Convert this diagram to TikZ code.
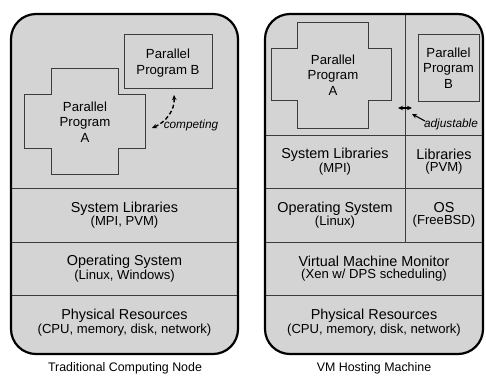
\documentclass[tikz,border=0pt]{standalone}
\usepackage{fontspec}
\setmainfont{Liberation Sans}
\usetikzlibrary{arrows.meta}
\definecolor{panelgray}{HTML}{D4D4D4}
\definecolor{rulegray}{HTML}{3C3C3C}
% two-line layer label: main name and a smaller detail line
\newcommand\lyr[2]{{\fontsize{14.4}{15}\selectfont #1}\\{\fontsize{13.1}{15}\selectfont #2}}
\begin{document}
\begin{tikzpicture}[x=1pt,y=-1pt,
  panelfill/.style={fill=panelgray,rounded corners=25pt},
  panelrim/.style={draw=black,line width=2.2pt,rounded corners=25pt},
  divider/.style={draw=rulegray,line width=0.9pt},
  progshape/.style={draw=rulegray,line width=0.9pt},
  layer/.style={align=center,inner sep=0pt},
  progtext/.style={align=center,inner sep=0pt,font=\fontsize{13.2}{15.5}\selectfont},
  note/.style={inner sep=0pt,font=\fontsize{11.8}{13}\selectfont\itshape},
  caption/.style={inner sep=0pt,font=\fontsize{12.4}{14}\selectfont},
  tip/.style={-{Stealth[length=5pt,width=4.5pt]}},
  twotip/.style={{Stealth[length=5pt,width=4.5pt]}-{Stealth[length=5pt,width=4.5pt]}}
]
\useasboundingbox (0,0) rectangle (486,381);

% ---------- Traditional computing node ----------
\fill[panelfill] (11,14) rectangle (238,354);
\draw[divider] (11,188) -- (238,188);
\draw[divider] (11,242) -- (238,242);
\draw[divider] (11,295) -- (238,295);

\draw[progshape] (51,68) -- (118,68) -- (118,94) -- (145,94) -- (145,148) -- (118,148)
  -- (118,174) -- (51,174) -- (51,148) -- (24,148) -- (24,94) -- (51,94) -- cycle;
\node[progtext] (tA) at (85,122) {Parallel\\Program\\A};
\draw[progshape] (124,34) rectangle (212,88);
\node[progtext] (tB) at (168,63) {Parallel\\Program B};

\coordinate (compA) at (152,128);
\coordinate (compB) at (174,95);
\draw[twotip,line width=1.4pt,dash pattern=on 4pt off 2.5pt]
  (compA) .. controls (166,122) and (175,110) .. (compB);
\node[note] (comp) at (191,125) {competing};

\node[layer] (tlib) at (124.5,215) {\lyr{System Libraries}{(MPI, PVM)}};
\node[layer] (tos)  at (124.5,268.5) {\lyr{Operating System}{(Linux, Windows)}};
\node[layer] (thw)  at (124.5,322.5) {\lyr{Physical Resources}{(CPU, memory, disk, network)}};

\draw[panelrim] (11,14) rectangle (238,354);
\node[caption] (capL) at (125,368) {Traditional Computing Node};

% ---------- VM hosting machine ----------
\fill[panelfill] (265,14) rectangle (483,354);
\draw[divider] (265,135) -- (483,135);
\draw[divider] (265,188) -- (483,188);
\draw[divider] (265,242) -- (483,242);
\draw[divider] (265,295) -- (483,295);
\draw[divider] (405,14) -- (405,242);

\draw[progshape] (297,22) -- (368,22) -- (368,48) -- (391,48) -- (391,100) -- (368,100)
  -- (368,128) -- (297,128) -- (297,100) -- (271,100) -- (271,48) -- (297,48) -- cycle;
\node[progtext] (vA) at (333,75) {Parallel\\Program\\A};
\draw[progshape] (418,34) rectangle (479,101);
\node[progtext] (vB) at (448.5,68) {Parallel\\Program\\B};

\coordinate (adjL) at (398,108);
\coordinate (adjR) at (412,108);
\draw[twotip,line width=1.2pt] (adjL) -- (adjR);
\node[note] (adj) at (451,124) {adjustable};
\coordinate (adjTail) at (425,121);
\coordinate (adjHead) at (412,114);
\draw[tip,line width=1.1pt] (adjTail) -- (adjHead);

\node[layer] (vlib)  at (335,161.5) {\lyr{System Libraries}{(MPI)}};
\node[layer] (vlib2) at (444,161.5) {\lyr{Libraries}{(PVM)}};
\node[layer] (vos)   at (335,215) {\lyr{Operating System}{(Linux)}};
\node[layer] (vos2)  at (444,215) {\lyr{OS}{(FreeBSD)}};
\node[layer] (vmm)   at (374,268.5) {\lyr{Virtual Machine Monitor}{(Xen w/ DPS scheduling)}};
\node[layer] (vhw)   at (374,322.5) {\lyr{Physical Resources}{(CPU, memory, disk, network)}};

\draw[panelrim] (265,14) rectangle (483,354);
\node[caption] (capR) at (374,368) {VM Hosting Machine};
\end{tikzpicture}
\end{document}
